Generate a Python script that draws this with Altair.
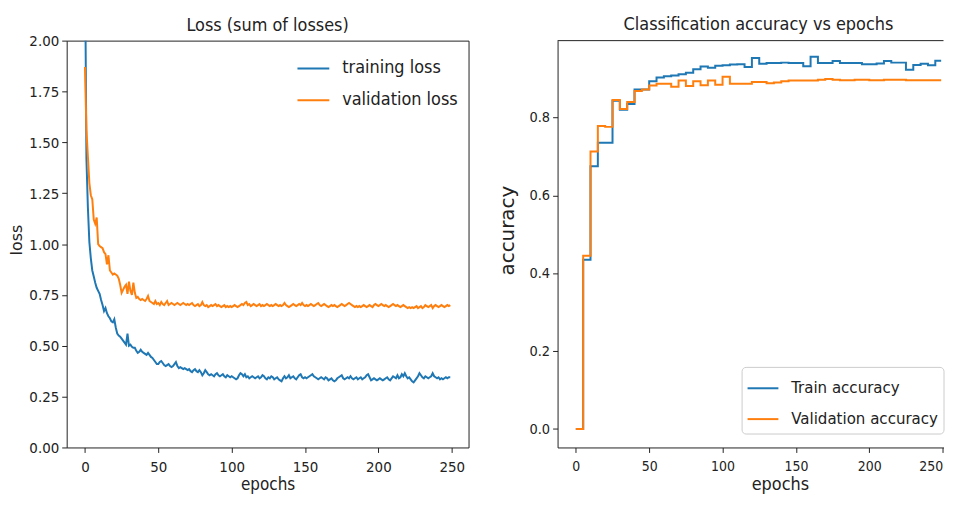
import altair as alt
import pandas as pd

# ---------------- data ----------------
epochs = list(range(250))

train_loss = [
    2.45, 1.42, 1.18, 1.01, 0.93, 0.87, 0.84, 0.81, 0.785, 0.77,
    0.755, 0.725, 0.70, 0.67, 0.685, 0.66, 0.645, 0.635, 0.62, 0.615,
    0.63, 0.59, 0.56, 0.55, 0.545, 0.535, 0.525, 0.515, 0.505, 0.56,
    0.50, 0.505, 0.495, 0.49, 0.49, 0.475, 0.465, 0.47, 0.48, 0.47,
    0.465, 0.46, 0.455, 0.465, 0.455, 0.445, 0.44, 0.43, 0.42, 0.41,
    0.41, 0.42, 0.425, 0.415, 0.405, 0.40, 0.405, 0.41, 0.40, 0.395,
    0.40, 0.41, 0.42, 0.40, 0.39, 0.395, 0.39, 0.385, 0.39, 0.385,
    0.38, 0.385, 0.375, 0.37, 0.38, 0.385, 0.375, 0.37, 0.38, 0.37,
    0.355, 0.365, 0.38, 0.37, 0.36, 0.355, 0.36, 0.355, 0.35, 0.36,
    0.365, 0.355, 0.35, 0.355, 0.36, 0.35, 0.345, 0.355, 0.35, 0.345,
    0.35, 0.345, 0.34, 0.335, 0.34, 0.355, 0.365, 0.36, 0.35, 0.36,
    0.345, 0.35, 0.34, 0.345, 0.35, 0.345, 0.34, 0.345, 0.35, 0.34,
    0.345, 0.355, 0.35, 0.34, 0.335, 0.345, 0.34, 0.35, 0.345, 0.335,
    0.34, 0.345, 0.335, 0.33, 0.325, 0.34, 0.35, 0.34, 0.345, 0.355,
    0.34, 0.345, 0.35, 0.34, 0.335, 0.345, 0.355, 0.36, 0.345, 0.34,
    0.345, 0.34, 0.345, 0.35, 0.355, 0.36, 0.35, 0.345, 0.34, 0.335,
    0.34, 0.345, 0.34, 0.335, 0.345, 0.34, 0.33, 0.335, 0.34, 0.33,
    0.325, 0.33, 0.34, 0.345, 0.35, 0.355, 0.34, 0.335, 0.34, 0.345,
    0.34, 0.35, 0.34, 0.335, 0.34, 0.345, 0.335, 0.34, 0.345, 0.335,
    0.34, 0.345, 0.355, 0.36, 0.345, 0.33, 0.335, 0.34, 0.335, 0.33,
    0.335, 0.34, 0.335, 0.33, 0.335, 0.34, 0.345, 0.335, 0.33, 0.34,
    0.35, 0.345, 0.34, 0.355, 0.34, 0.345, 0.36, 0.35, 0.365, 0.35,
    0.34, 0.345, 0.335, 0.325, 0.32, 0.33, 0.34, 0.35, 0.365, 0.355,
    0.345, 0.34, 0.35, 0.345, 0.34, 0.345, 0.35, 0.365, 0.35, 0.345,
    0.34, 0.345, 0.335, 0.34, 0.335, 0.34, 0.345, 0.34, 0.345, 0.345,
]

val_loss = [
    1.87, 1.56, 1.43, 1.30, 1.24, 1.22, 1.12, 1.10, 1.13, 1.00,
    0.99, 0.985, 0.98, 0.96, 0.95, 0.90, 0.945, 0.87, 0.86, 0.85,
    0.855, 0.85, 0.845, 0.83, 0.80, 0.76, 0.775, 0.79, 0.80, 0.755,
    0.815, 0.77, 0.75, 0.81, 0.76, 0.735, 0.74, 0.73, 0.725, 0.73,
    0.725, 0.72, 0.73, 0.745, 0.72, 0.715, 0.71, 0.705, 0.72, 0.705,
    0.71, 0.70, 0.715, 0.705, 0.70, 0.71, 0.72, 0.70, 0.705, 0.71,
    0.705, 0.70, 0.705, 0.71, 0.705, 0.70, 0.705, 0.71, 0.705, 0.70,
    0.705, 0.70, 0.705, 0.71, 0.70, 0.695, 0.70, 0.705, 0.695, 0.70,
    0.715, 0.70, 0.695, 0.70, 0.69, 0.695, 0.70, 0.695, 0.70, 0.705,
    0.695, 0.70, 0.695, 0.69, 0.695, 0.70, 0.69, 0.695, 0.69, 0.695,
    0.69, 0.695, 0.70, 0.695, 0.69, 0.695, 0.70, 0.705, 0.70, 0.71,
    0.715, 0.70, 0.705, 0.695, 0.70, 0.705, 0.70, 0.695, 0.70, 0.705,
    0.695, 0.70, 0.695, 0.70, 0.705, 0.70, 0.695, 0.70, 0.695, 0.70,
    0.705, 0.70, 0.695, 0.70, 0.695, 0.70, 0.71, 0.70, 0.695, 0.69,
    0.695, 0.70, 0.705, 0.70, 0.695, 0.70, 0.705, 0.70, 0.71, 0.70,
    0.695, 0.70, 0.695, 0.70, 0.705, 0.70, 0.695, 0.70, 0.705, 0.71,
    0.70, 0.695, 0.70, 0.705, 0.70, 0.695, 0.69, 0.695, 0.70, 0.695,
    0.70, 0.695, 0.69, 0.695, 0.70, 0.705, 0.70, 0.695, 0.70, 0.705,
    0.71, 0.705, 0.70, 0.695, 0.69, 0.695, 0.69, 0.695, 0.69, 0.695,
    0.70, 0.695, 0.69, 0.695, 0.70, 0.695, 0.69, 0.70, 0.705, 0.70,
    0.695, 0.70, 0.705, 0.70, 0.695, 0.70, 0.695, 0.69, 0.695, 0.70,
    0.705, 0.70, 0.695, 0.70, 0.695, 0.69, 0.695, 0.70, 0.695, 0.69,
    0.685, 0.69, 0.685, 0.69, 0.685, 0.69, 0.695, 0.685, 0.69, 0.695,
    0.685, 0.69, 0.70, 0.695, 0.69, 0.695, 0.70, 0.685, 0.695, 0.70,
    0.695, 0.69, 0.695, 0.70, 0.695, 0.69, 0.695, 0.70, 0.695, 0.70,
]

# accuracy is recorded as a step every 5 epochs (last point closes the line)
acc_epochs = list(range(0, 250, 5)) + [249]

train_acc = [
    0.0, 0.435, 0.675, 0.735, 0.735, 0.843, 0.82, 0.835, 0.872, 0.872,
    0.893, 0.903, 0.906, 0.908, 0.911, 0.915, 0.924, 0.931, 0.928, 0.933,
    0.934, 0.936, 0.937, 0.93, 0.953, 0.938, 0.94, 0.94, 0.941, 0.94,
    0.94, 0.932, 0.956, 0.94, 0.94, 0.945, 0.94, 0.94, 0.94, 0.937,
    0.937, 0.939, 0.945, 0.941, 0.941, 0.923, 0.935, 0.938, 0.934, 0.946,
    0.946,
]

val_acc = [
    0.0, 0.445, 0.713, 0.778, 0.776, 0.845, 0.822, 0.84, 0.868, 0.872,
    0.882, 0.887, 0.887, 0.879, 0.895, 0.881, 0.893, 0.883, 0.895, 0.884,
    0.905, 0.887, 0.887, 0.887, 0.891, 0.891, 0.888, 0.89, 0.893, 0.895,
    0.895, 0.895, 0.895, 0.897, 0.899, 0.897, 0.896, 0.896, 0.897, 0.897,
    0.896, 0.896, 0.897, 0.897, 0.897, 0.896, 0.896, 0.896, 0.896, 0.896,
    0.896,
]

loss_series = ["training loss", "validation loss"]
acc_series = ["Train accuracy", "Validation accuracy"]
epoch_ticks = [0, 50, 100, 150, 200, 250]
loss_ticks = [0.0, 0.25, 0.5, 0.75, 1.0, 1.25, 1.5, 1.75, 2.0]
acc_ticks = [0.0, 0.2, 0.4, 0.6, 0.8]

assert len(train_loss) == 250 and len(val_loss) == 250
assert len(train_acc) == len(acc_epochs) == len(val_acc)

loss_df = pd.DataFrame({
    "epoch": epochs + epochs,
    "value": train_loss + val_loss,
    "series": [loss_series[0]] * 250 + [loss_series[1]] * 250,
})
acc_df = pd.DataFrame({
    "epoch": acc_epochs + acc_epochs,
    "value": train_acc + val_acc,
    "series": [acc_series[0]] * len(acc_epochs) + [acc_series[1]] * len(acc_epochs),
})

# ---------------- styles ----------------
BLUE, ORANGE = "#1f77b4", "#ff7f0e"
INK = "#222222"
FONT = "DejaVu Sans Condensed"
FONT_ROT = "DejaVu Sans"

PX_PER_EPOCH = 404 / 273.9          # matplotlib x-limits -12.45 .. 261.45 over 404 px
RIGHT_W = 388                        # right panel is cut by the picture's edge
RIGHT_END = -12.45 + RIGHT_W / PX_PER_EPOCH


def x_axis(lsize, tsize, tx, domain, align):
    return alt.Axis(
        values=epoch_ticks, format="d", title="epochs",
        titleFont=FONT, titleFontSize=tsize, titleFontWeight="normal", titleColor=INK,
        titleBaseline="alphabetic", titleX=tx, titleY=42,
        labelFont=FONT, labelFontSize=lsize, labelColor=INK, labelPadding=7,
        labelFlush=False, labelAlign=align,
        tickSize=5, tickColor=INK, tickWidth=1,
        domain=domain, domainColor=INK, domainWidth=1, grid=False,
    )


def y_axis(values, fmt, title, lsize, tsize, tx, ty, domain):
    return alt.Axis(
        values=values, format=fmt, title=title,
        titleFont=FONT_ROT, titleFontSize=tsize, titleFontWeight="normal", titleColor=INK,
        titleAngle=270, titleAlign="center", titleBaseline="alphabetic",
        titleX=tx, titleY=ty,
        labelFont=FONT, labelFontSize=lsize, labelColor=INK, labelPadding=3,
        tickSize=5, tickColor=INK, tickWidth=1,
        domain=domain, domainColor=INK, domainWidth=1, grid=False,
        minExtent=40, maxExtent=40,
    )


left = alt.Chart(loss_df).mark_line(clip=True, strokeWidth=2).encode(
    x=alt.X("epoch:Q", scale=alt.Scale(domain=[-12.45, 261.45], nice=False, zero=False),
            axis=x_axis(15, 17, 202, False, "center")),
    y=alt.Y("value:Q", scale=alt.Scale(domain=[0, 2], nice=False, zero=False),
            axis=y_axis(loss_ticks, ".2f", "loss", 15, 16, -45, 200, False)),
    color=alt.Color("series:N",
                    scale=alt.Scale(domain=loss_series, range=[BLUE, ORANGE]),
                    legend=alt.Legend(title=None, orient="none", legendX=231, legendY=11,
                                      symbolType="stroke", symbolSize=1024, symbolStrokeWidth=2,
                                      labelFont=FONT, labelFontSize=18, labelColor=INK,
                                      labelOffset=12, labelLimit=400, rowPadding=6, padding=0)),
).properties(
    width=404, height=409,
    view=alt.ViewBackground(stroke=INK, strokeWidth=1),
    title=alt.TitleParams("Loss (sum of losses)", font=FONT, fontSize=18,
                          fontWeight="normal", color=INK, baseline="alphabetic",
                          offset=-15, frame="group", anchor="middle"),
)

# last x label sits on the picture's edge: keep it inside the page
edge_align = {"condition": {"test": "datum.value === 250", "value": "right"}, "value": "center"}

acc_lines = alt.Chart(acc_df).mark_line(interpolate="step-after", strokeWidth=2).encode(
    x=alt.X("epoch:Q", scale=alt.Scale(domain=[-12.45, RIGHT_END], nice=False, zero=False),
            axis=x_axis(14, 18, 223.5, True, edge_align)),
    y=alt.Y("value:Q", scale=alt.Scale(domain=[-0.0473, 0.9975], nice=False, zero=False),
            axis=y_axis(acc_ticks, ".1f", "accuracy", 14.5, 20, -44, 190.5, True)),
    color=alt.Color("series:N",
                    scale=alt.Scale(domain=acc_series, range=[BLUE, ORANGE]),
                    legend=alt.Legend(title=None, orient="none", legendX=185, legendY=328,
                                      symbolType="stroke", symbolSize=961, symbolStrokeWidth=2,
                                      labelFont=FONT, labelFontSize=16.8, labelColor=INK,
                                      labelOffset=12, labelLimit=400, rowPadding=5, padding=5,
                                      strokeColor="#cccccc", fillColor="#ffffff",
                                      cornerRadius=4)),
)

# top edge of the frame (the right edge is outside the picture)
top_edge = alt.Chart(pd.DataFrame({"edge": ["top"]})).mark_rule(
    color=INK, strokeWidth=1
).encode(x=alt.value(0), x2=alt.value(RIGHT_W), y=alt.value(0))

right = alt.layer(acc_lines, top_edge).properties(
    width=RIGHT_W, height=409,
    view=alt.ViewBackground(stroke="transparent"),
    title=alt.TitleParams("Classification accuracy vs epochs", font=FONT, fontSize=18,
                          fontWeight="normal", color=INK, baseline="alphabetic",
                          offset=-8, dx=8, frame="group", anchor="middle"),
)

chart = (
    alt.hconcat(left, right, spacing=27.5)
    .resolve_scale(color="independent")
    .resolve_legend(color="independent")
    .properties(padding={"left": 0, "top": 6.5, "right": 0, "bottom": 0},
                background="#ffffff")
)

chart.save("out.html", embed_options={"renderer": "svg", "actions": False})
